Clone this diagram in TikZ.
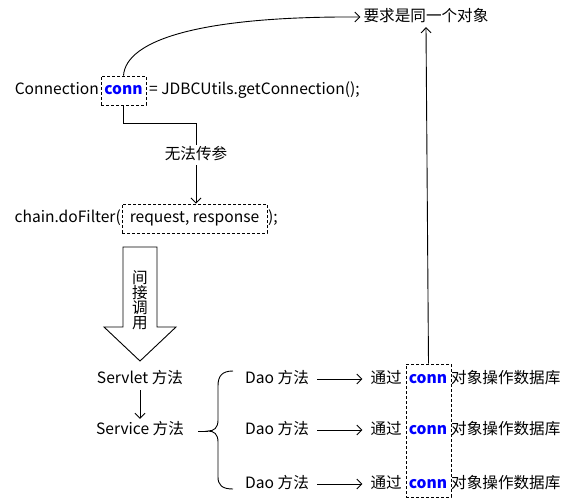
\documentclass[tikz,border=0pt]{standalone}
\usepackage{fontspec}
\setmainfont{Noto Sans CJK SC}
\usetikzlibrary{arrows.meta,calc,positioning}
\definecolor{ink}{HTML}{000000}
\definecolor{connblue}{HTML}{0000FF}
\tikzset{>={Straight Barb[length=5pt,width=10pt]},
  txt/.style={font=\fontsize{15.6}{17}\selectfont,text=ink,inner sep=0pt,
    text height=11pt,text depth=3pt},
  word/.style={txt,font=\fontsize{15.6}{17}\selectfont\bfseries,text=connblue},
  dashbox/.style={draw=ink,line width=0.8pt,dash pattern=on 3pt off 2pt},
  link/.style={draw=ink,line width=0.9pt,->},
  wire/.style={draw=ink,line width=0.9pt},
  hollow/.style={draw=ink,line width=0.9pt,fill=white}}
\begin{document}
\begin{tikzpicture}[x=1pt,y=-1pt]
  \useasboundingbox (0,0) rectangle (573,499);
  % top line
  \node[txt,anchor=east] (decl) at (99,90) {Connection};
  \node[word,dashbox,minimum width=45pt,minimum height=29pt] (connbox) at (123.5,90.5) {conn};
  \node[txt,anchor=west] (getconn) at (149,90) {= JDBCUtils.getConnection();};
  \node[txt,inner sep=3pt] (goal) at (426,17) {要求是同一个对象};
  \draw[link] (connbox.north) .. controls (126,40) and (200,16) .. (goal.west);
  % filter line
  \node[txt,fill=white,inner sep=3pt] (nopass) at (196,155) {无法传参};
  \node[txt,anchor=east] (dofilter) at (121,218) {chain.doFilter(};
  \node[txt,dashbox,minimum width=145pt,minimum height=29pt] (reqbox) at (194.5,218.5) {request, response};
  \node[txt,anchor=west] (close) at (268,218) {);};
  \draw[wire] (connbox.south) -- ++(0,18) -| (nopass.north);
  \draw[link] (nopass.south) -- (nopass.south |- reqbox.north);
  % hollow arrow
  \draw[hollow] (123,247) -- (157,247) -- (157,327) -- (176,327) -- (140,361)
    -- (104,327) -- (123,327) -- cycle;
  \node[txt,align=center,font=\fontsize{15.6}{15}\selectfont,text height=,text depth=] (indirect) at (140,300) {间\\接\\调\\用};
  % servlet / service
  \node[txt,inner sep=4pt] (servlet) at (140,379) {Servlet 方法};
  \node[txt,inner sep=4pt] (service) at (140,430) {Service 方法};
  \draw[link] (servlet.south) -- (service.north);
  \coordinate (bracein) at (198,431);
  \coordinate (bracetip) at (208,431);
  \draw[wire] (bracein) -- (bracetip);
  \draw[wire] (233,371) .. controls (222,371) and (218,376) .. (218,386) -- (218,420)
    .. controls (218,428) and (214,431) .. (bracetip)
    .. controls (214,431) and (218,434) .. (218,442) -- (218,477)
    .. controls (218,485) and (222,489) .. (233,489);
  % dao rows
  \foreach \y/\n in {379/1,430/2,484/3}{
    \node[txt,anchor=west,inner sep=2pt] (dao\n) at (243,\y) {Dao 方法};
    \node[txt,anchor=east,inner sep=2pt] (via\n) at (404,\y) {通过};
    \node[word] (conn\n) at (428,\y) {conn};
    \node[txt,anchor=west] (rest\n) at (451,\y) {对象操作数据库};
    \draw[link] ([xshift=6pt]dao\n.east) -- ([xshift=-6pt]via\n.west);
  }
  \node[dashbox,minimum width=45pt,minimum height=133pt] (colbox) at (428.5,430.5) {};
  \draw[link] (colbox.north) -- (goal.south);
\end{tikzpicture}
\end{document}
